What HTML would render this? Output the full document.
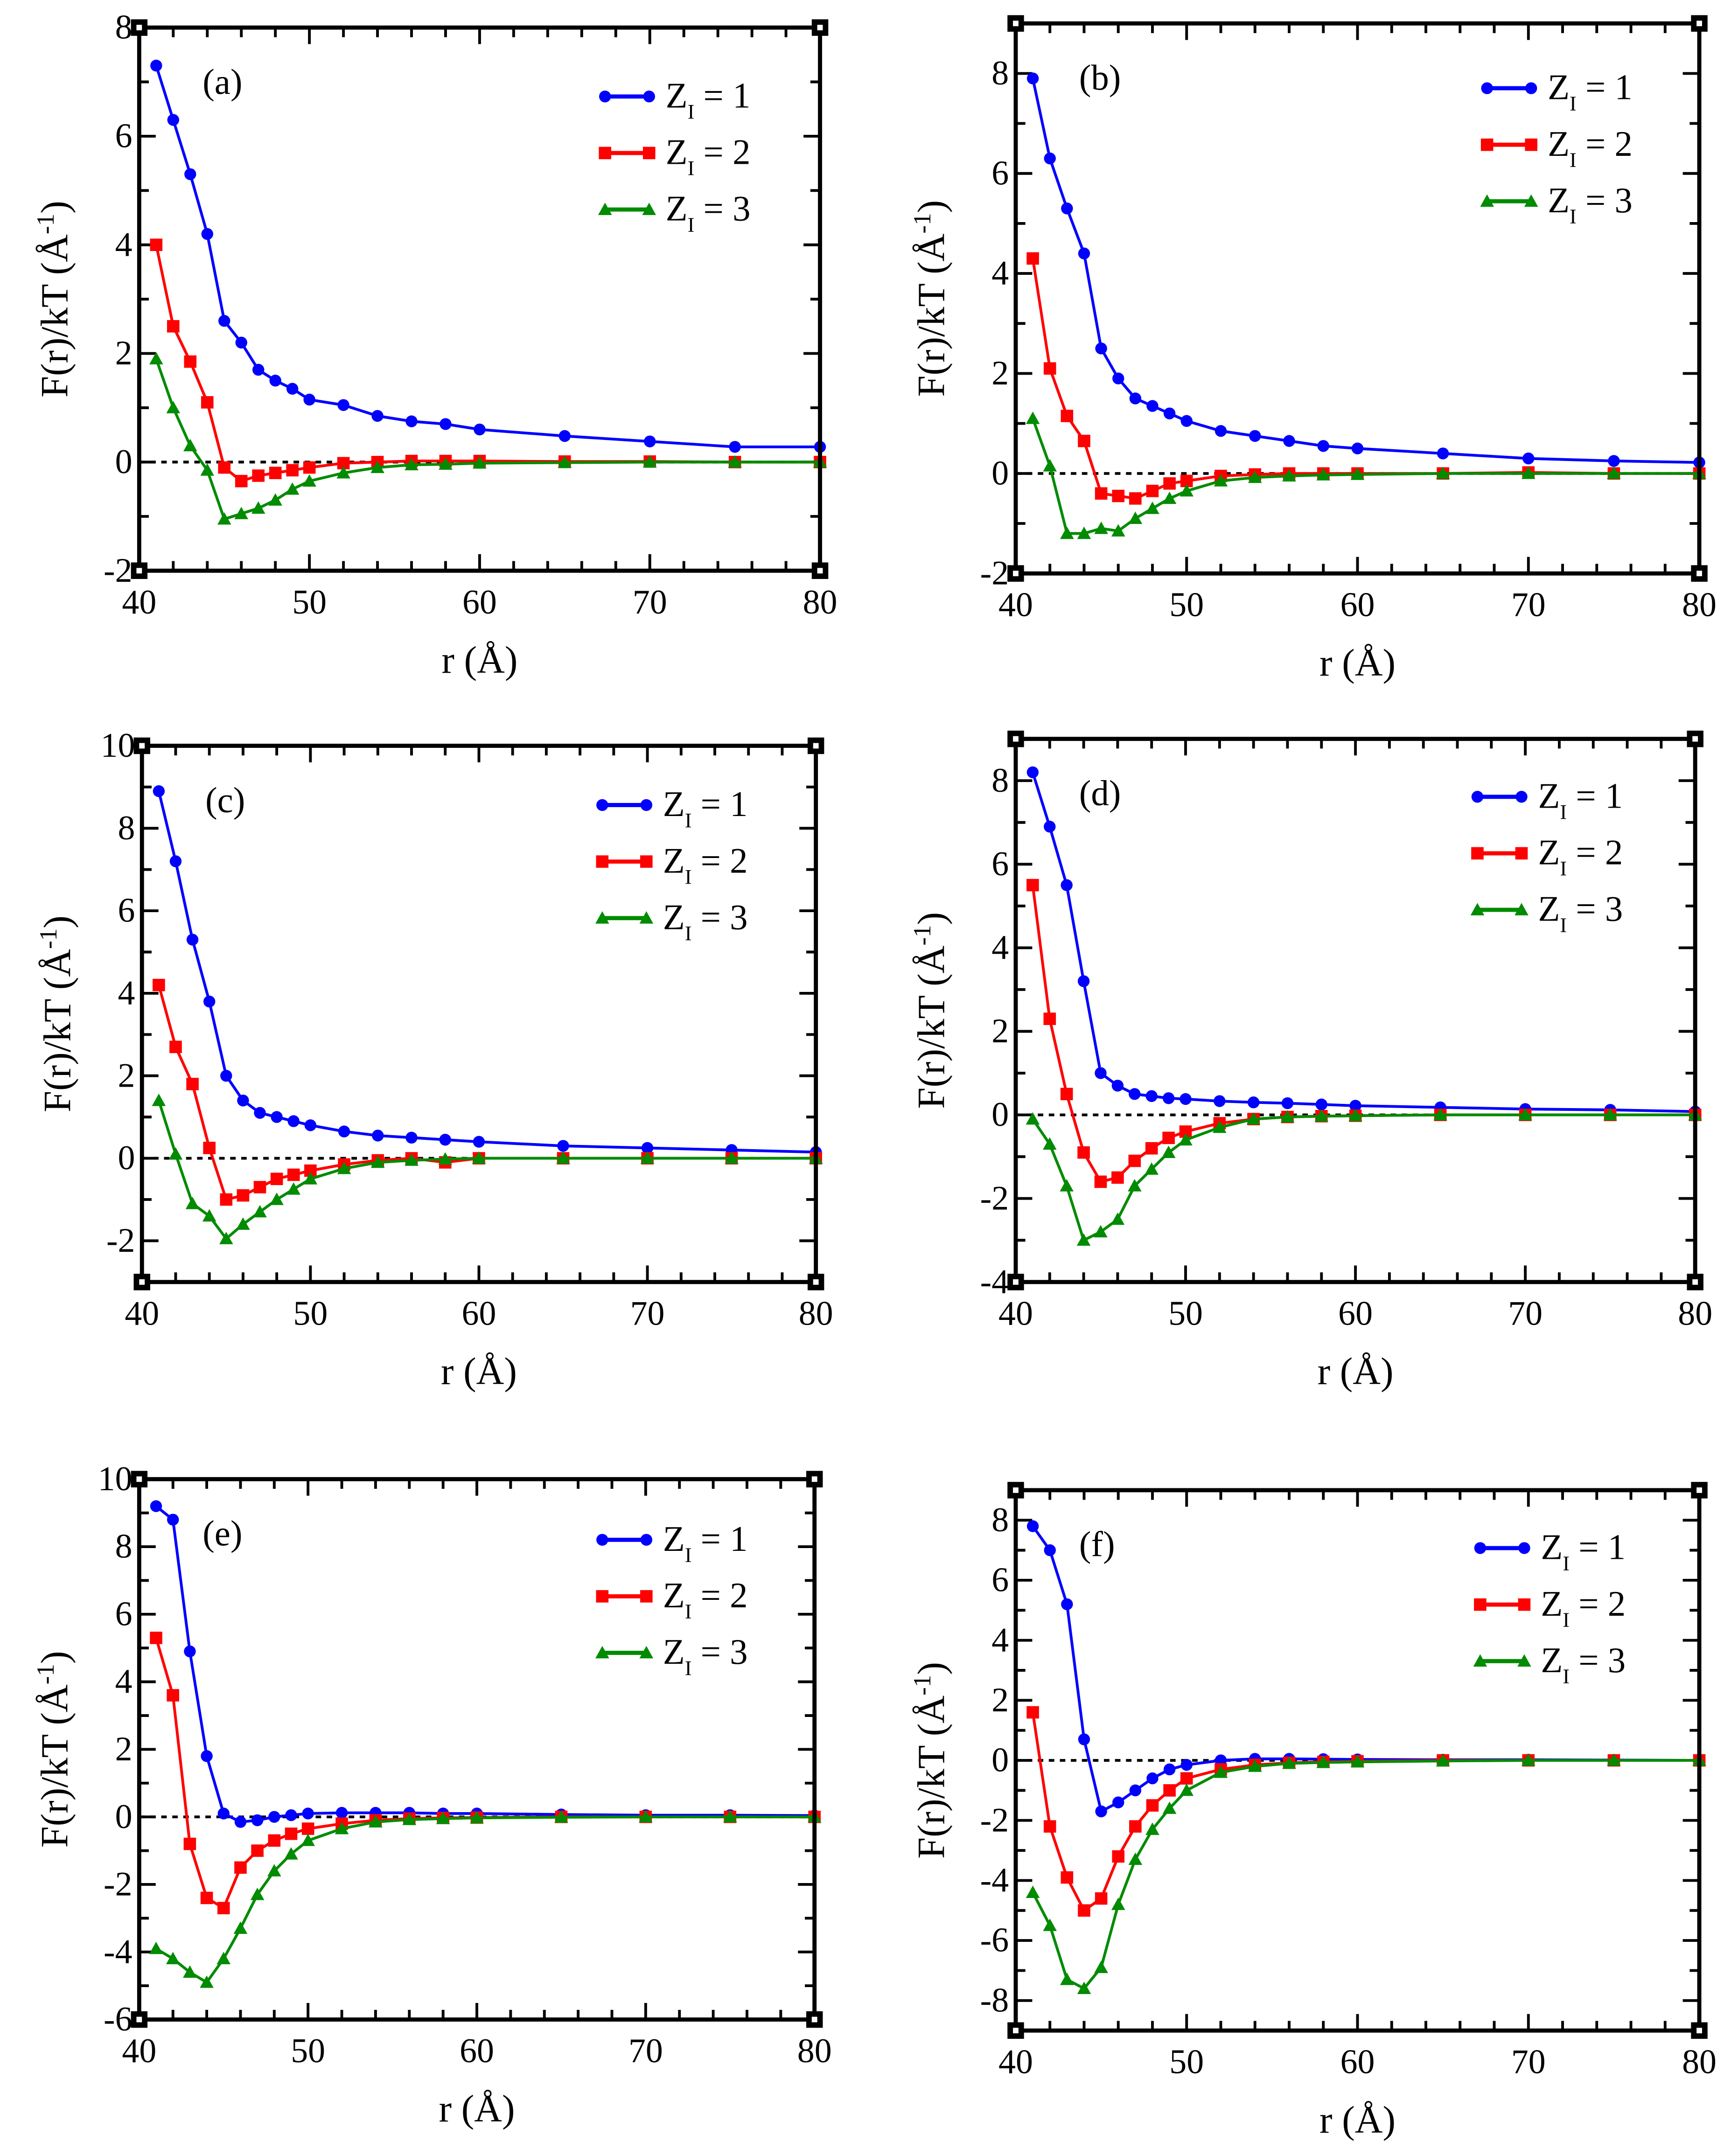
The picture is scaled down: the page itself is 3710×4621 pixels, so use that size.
<!DOCTYPE html>
<html><head><meta charset="utf-8"><style>
html,body{margin:0;padding:0;background:#fff;}
svg{display:block;}
text{font-family:"Liberation Serif",serif;fill:#000;}
</style></head><body>
<svg id="fig" width="3710" height="4621" viewBox="0 0 1256 1564" preserveAspectRatio="none" xmlns="http://www.w3.org/2000/svg"></svg>
<script>
const rVals = [41,42,43,44,45,46,47,48,49,50,52,54,56,58,60,65,70,75,80];
const xTicks = [40,50,60,70,80];
const panelLabels = ["(a)","(b)","(c)","(d)","(e)","(f)"];
const seriesNames = ["Z1 = 1","Z1 = 2","Z1 = 3"];
const aBlue = [7.3,6.3,5.3,4.2,2.6,2.2,1.7,1.5,1.35,1.15,1.05,0.85,0.75,0.7,0.6,0.48,0.38,0.28,0.28];
const aRed = [4.0,2.5,1.85,1.1,-0.1,-0.35,-0.25,-0.2,-0.15,-0.1,-0.02,0,0.02,0.02,0.02,0.01,0.01,0,0];
const aGreen = [1.9,1.0,0.3,-0.15,-1.05,-0.95,-0.85,-0.7,-0.5,-0.35,-0.2,-0.1,-0.05,-0.04,-0.02,-0.01,0,0,0];
const bBlue = [7.9,6.3,5.3,4.4,2.5,1.9,1.5,1.35,1.2,1.05,0.85,0.75,0.65,0.55,0.5,0.4,0.3,0.25,0.22];
const bRed = [4.3,2.1,1.15,0.65,-0.4,-0.45,-0.5,-0.35,-0.2,-0.15,-0.05,-0.02,0,0,0,0,0.02,0,0];
const bGreen = [1.1,0.15,-1.2,-1.2,-1.1,-1.15,-0.9,-0.7,-0.5,-0.35,-0.15,-0.08,-0.05,-0.03,-0.02,0,0,0,0];
const cBlue = [8.9,7.2,5.3,3.8,2.0,1.4,1.1,1.0,0.9,0.8,0.65,0.55,0.5,0.45,0.4,0.3,0.25,0.2,0.15];
const cRed = [4.2,2.7,1.8,0.25,-1.0,-0.9,-0.7,-0.5,-0.4,-0.3,-0.15,-0.05,0,-0.1,0,0,0,0,0];
const cGreen = [1.4,0.1,-1.1,-1.4,-1.95,-1.6,-1.3,-1.0,-0.75,-0.5,-0.25,-0.1,-0.05,-0.02,0,0,0,0,0];
const dBlue = [8.2,6.9,5.5,3.2,1.0,0.7,0.5,0.45,0.4,0.38,0.33,0.3,0.28,0.25,0.22,0.18,0.14,0.12,0.08];
const dRed = [5.5,2.3,0.5,-0.9,-1.6,-1.5,-1.1,-0.8,-0.55,-0.4,-0.2,-0.1,-0.05,-0.03,-0.02,0,0,0,0];
const dGreen = [-0.1,-0.7,-1.7,-3.0,-2.8,-2.5,-1.7,-1.3,-0.9,-0.6,-0.3,-0.1,-0.05,-0.03,-0.02,0,0,0,0];
const eBlue = [9.2,8.8,4.9,1.8,0.1,-0.15,-0.1,0,0.05,0.1,0.12,0.12,0.12,0.1,0.1,0.07,0.05,0.05,0.04];
const eRed = [5.3,3.6,-0.8,-2.4,-2.7,-1.5,-1.0,-0.7,-0.5,-0.35,-0.2,-0.1,-0.05,-0.03,-0.02,0,0,0,0];
const eGreen = [-3.9,-4.2,-4.6,-4.9,-4.2,-3.3,-2.3,-1.6,-1.1,-0.7,-0.35,-0.15,-0.08,-0.05,-0.03,-0.01,0,0,0];
const fBlue = [7.8,7.0,5.2,0.7,-1.7,-1.4,-1.0,-0.6,-0.3,-0.15,0,0.05,0.05,0.04,0.03,0.02,0.02,0.01,0];
const fRed = [1.6,-2.2,-3.9,-5.0,-4.6,-3.2,-2.2,-1.5,-1.0,-0.6,-0.3,-0.15,-0.08,-0.05,-0.03,0,0,0,0];
const fGreen = [-4.4,-5.5,-7.3,-7.6,-6.9,-4.8,-3.3,-2.3,-1.6,-1.0,-0.4,-0.2,-0.1,-0.07,-0.05,-0.02,0,0,0];
const yMins = [-2,-2,-3,-4,-6,-9];
const yMaxs = [8,9,10,9,10,9];
const yLabelSteps = [2,2,2,2,2,2];

const seriesData = [[aBlue,aRed,aGreen],[bBlue,bRed,bGreen],[cBlue,cRed,cGreen],[dBlue,dRed,dGreen],[eBlue,eRed,eGreen],[fBlue,fRed,fGreen]];
const boxes = [[101,20,595,414],[737,17,1233,416],[103,541,592,930],[737,536,1230,930],[101,1073,591,1465],[737,1081,1233,1473]];
const legends = [[437,70],[1077,64],[435,584],[1070,578],[435,1117],[1072,1123]];
const colors = ["#0000ff","#ff0000","#008b00"];
const NS = "http://www.w3.org/2000/svg";
const svg = document.getElementById("fig");
function mk(tag, attrs, parent){const e=document.createElementNS(NS,tag);for(const k in attrs)e.setAttribute(k,attrs[k]);(parent||svg).appendChild(e);return e;}
function marker(g, k, x, y, c){
  let m;
  if(k===0) m=mk("circle",{cx:x,cy:y,r:4.3,fill:c},g);
  else if(k===1) m=mk("rect",{x:x-4.5,y:y-4.5,width:9,height:9,fill:c},g);
  else m=mk("polygon",{points:`${x},${y-5} ${x-5},${y+4} ${x+5},${y+4}`,fill:c},g);
  return m;
}
boxes.forEach((b,p)=>{
  const [L,T,R,B]=b, ymin=yMins[p], ymax=yMaxs[p];
  const X=v=>L+(v-40)/40*(R-L);
  const Y=v=>B-(v-ymin)/(ymax-ymin)*(B-T);
  const g=mk("g",{});
  
  
  // ticks
  const tg=mk("g",{stroke:"#000","stroke-width":2},g);
  
  
  for(let v=40; v<=80; v+=2){
    const len=(v%10===0)?12:7, x=X(v);
    mk("line",{x1:x,y1:B,x2:x,y2:B-len},tg);
    mk("line",{x1:x,y1:T,x2:x,y2:T+len},tg);
  }
  for(let v=ymin; v<=ymax; v+=1){
    const len=(v%2===0)?12:7, y=Y(v);
    mk("line",{x1:L,y1:y,x2:L+len,y2:y},tg);
    mk("line",{x1:R,y1:y,x2:R-len,y2:y},tg);
  }
  // zero line
  const z=mk("line",{x1:L,y1:Y(0),x2:R,y2:Y(0),stroke:"#000","stroke-width":2,"stroke-dasharray":"4,4"},g);
  
  
  // series
  seriesData[p].forEach((arr,k)=>{
    const sg=mk("g",{},g);
    
    
    mk("polyline",{points:arr.map((v,i)=>X(rVals[i])+","+Y(v)).join(" "),fill:"none",stroke:colors[k],"stroke-width":2},sg);
    arr.forEach((v,i)=>{const m=marker(sg,k,X(rVals[i]),Y(v),colors[k]);
      
      });
  });
  // frame
  const fr=mk("rect",{x:L,y:T,width:R-L,height:B-T,fill:"none",stroke:"#000","stroke-width":3},g);
  
  
  [[L,T],[R,T],[L,B],[R,B]].forEach(c=>{
    mk("rect",{x:c[0]-6,y:c[1]-6,width:12,height:12,fill:"#000"},g);
    mk("rect",{x:c[0]-2,y:c[1]-2,width:4,height:4,fill:"#fff"},g);
  });
  // tick labels
  xTicks.forEach(v=>{const t=mk("text",{x:X(v),y:B+31,"font-size":25,"text-anchor":"middle"},g);t.textContent=v;
    
    });
  for(let v=ymin; v<=ymax; v++){ if(v%yLabelSteps[p]!==0) continue;
    const t=mk("text",{x:L-5,y:Y(v)+8,"font-size":25,"text-anchor":"end"},g);t.textContent=v;
    
    }
  // axis titles
  const xt=mk("text",{x:(L+R)/2,y:B+74,"font-size":28,"text-anchor":"middle"},g);xt.textContent="r (Å)";
  
  
  const yc=(T+B)/2, yx=L-52;
  const yt=mk("text",{x:0,y:0,"font-size":28,"text-anchor":"middle",transform:`translate(${yx},${yc}) rotate(-90)`},g);
  yt.innerHTML='F(r)/kT (Å<tspan dy="-10" font-size="18">-1</tspan><tspan dy="10">)</tspan>';
  
  
  // panel label
  const pl=mk("text",{x:L+46,y:T+48,"font-size":26},g);pl.textContent=panelLabels[p];
  
  
  // legend
  const [lx,ly]=legends[p];
  seriesNames.forEach((n,k)=>{
    const y=ly+k*41;
    const lg=mk("g",{},g);
    
    
    mk("line",{x1:lx,y1:y,x2:lx+36,y2:y,stroke:colors[k],"stroke-width":3},lg);
    marker(lg,k,lx+2,y,colors[k]);marker(lg,k,lx+34,y,colors[k]);
    const t=mk("text",{x:lx+46,y:y+8,"font-size":26},lg);
    t.innerHTML='Z<tspan dy="8" font-size="15">I</tspan><tspan dy="-8"> = '+(k+1)+'</tspan>';
  });
});
</script>
</body></html>
